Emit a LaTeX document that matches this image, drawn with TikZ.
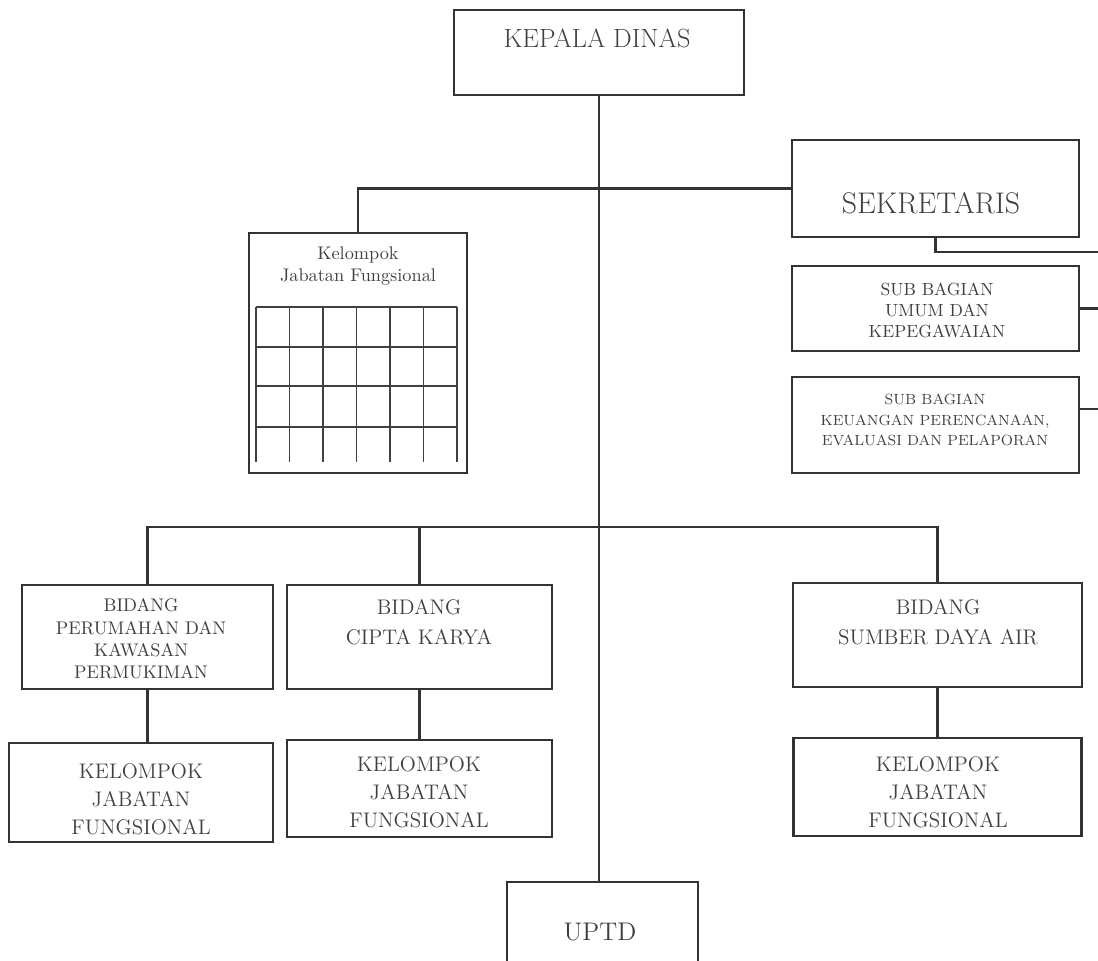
\documentclass[tikz,border=0pt]{standalone}
\usepackage{fontspec}
\begin{document}
\begin{tikzpicture}[x=0.02cm,y=-0.02cm]
	% Gaya
	\tikzstyle{garis}=[-,line width=1.3pt,draw=black!80]
	\tikzstyle{kotak}=[draw=black!80,line width=1.3pt,rectangle,inner sep=0pt]
	\tikzstyle{teks}=[text=black!75,align=center,inner sep=0pt]
	\tikzstyle{kisi}=[-,line width=0.8pt,draw=black!75]
	% Bingkai
	\useasboundingbox (0,0) rectangle (1098,960);
	% Kotak
	\node[kotak,minimum width=5.80cm,minimum height=1.70cm] (kepala) at (599,52.5) {};
	\node[teks,font=\fontsize{15}{18}\selectfont] (kepalaT) at (597,38) {KEPALA DINAS};
	%
	\node[kotak,minimum width=5.74cm,minimum height=1.94cm] (sekretaris) at (935.5,188.5) {};
	\node[teks,font=\fontsize{17}{20}\selectfont] (sekretarisT) at (931,203) {SEKRETARIS};
	\node[kotak,minimum width=5.74cm,minimum height=1.70cm] (umum) at (935.5,308.5) {};
	\node[teks,font=\fontsize{10}{12}\selectfont] (umumT) at (937,310) {SUB BAGIAN\\UMUM DAN\\KEPEGAWAIAN};
	\node[kotak,minimum width=5.74cm,minimum height=1.92cm] (keuangan) at (935.5,425) {};
	\node[teks,font=\fontsize{8.4}{11.6}\selectfont] (keuanganT) at (935,420) {SUB BAGIAN\\KEUANGAN PERENCANAAN,\\EVALUASI DAN PELAPORAN};
	%
	\node[kotak,minimum width=4.36cm,minimum height=4.80cm] (kjf) at (358,353) {};
	\node[teks,font=\fontsize{10.4}{12.5}\selectfont] (kjfT) at (358,266) {Kelompok\\Jabatan Fungsional};
	\foreach \gx in {256,289.5,323,356.5,390,423.5,457}
		\draw[kisi] (\gx,307) -- (\gx,462);
	\foreach \gy in {307,347,386,427}
		\draw[kisi] (256,\gy) -- (457,\gy);
	%
	\node[kotak,minimum width=5.02cm,minimum height=2.08cm] (perumahan) at (147.5,637) {};
	\node[teks,font=\fontsize{10.4}{12.7}\selectfont] (perumahanT) at (141,639) {BIDANG\\PERUMAHAN DAN\\KAWASAN\\PERMUKIMAN};
	\node[kotak,minimum width=5.30cm,minimum height=2.08cm] (cipta) at (419.5,637) {};
	\node[teks,font=\fontsize{12}{17}\selectfont] (ciptaT) at (419,622) {BIDANG\\CIPTA KARYA};
	\node[kotak,minimum width=5.78cm,minimum height=2.08cm] (sda) at (937.5,635) {};
	\node[teks,font=\fontsize{12}{17}\selectfont] (sdaT) at (938,622) {BIDANG\\SUMBER DAYA AIR};
	%
	\node[kotak,minimum width=5.28cm,minimum height=1.98cm] (kjfA) at (141,792.5) {};
	\node[teks,font=\fontsize{12}{15.9}\selectfont] (kjfAT) at (141,799) {KELOMPOK\\JABATAN\\FUNGSIONAL};
	\node[kotak,minimum width=5.30cm,minimum height=1.94cm] (kjfB) at (419.5,788.5) {};
	\node[teks,font=\fontsize{12}{15.9}\selectfont] (kjfBT) at (419,792) {KELOMPOK\\JABATAN\\FUNGSIONAL};
	\node[kotak,minimum width=5.76cm,minimum height=1.96cm] (kjfC) at (937.5,787) {};
	\node[teks,font=\fontsize{12}{15.9}\selectfont] (kjfCT) at (938,792) {KELOMPOK\\JABATAN\\FUNGSIONAL};
	%
	\node[kotak,minimum width=3.82cm,minimum height=2.06cm] (uptd) at (602.5,933.5) {};
	\node[teks,font=\fontsize{14.5}{17}\selectfont] (uptdT) at (600,932) {UPTD};
	% Titik bantu
	\coordinate (bus) at (600,527);
	\coordinate (kananA) at (1100,252);
	\coordinate (kananB) at (1100,308.5);
	\coordinate (kananC) at (1100,409);
	% Garis
	\draw[garis] (kepala.south) -- (kepala.south |- uptd.north);
	\draw[garis] (kjf.north) |- (sekretaris.west);
	\draw[garis] (sekretaris.south) |- (kananA);
	\draw[garis] (umum.east) -- (kananB);
	\draw[garis] (keuangan.east |- kananC) -- (kananC);
	\draw[garis] (perumahan.north) |- (bus) -| (sda.north);
	\draw[garis] (cipta.north) -- (cipta.north |- bus);
	\draw[garis] (perumahan.south) -- (perumahan.south |- kjfA.north);
	\draw[garis] (cipta.south) -- (cipta.south |- kjfB.north);
	\draw[garis] (sda.south) -- (sda.south |- kjfC.north);
\end{tikzpicture}
\end{document}
